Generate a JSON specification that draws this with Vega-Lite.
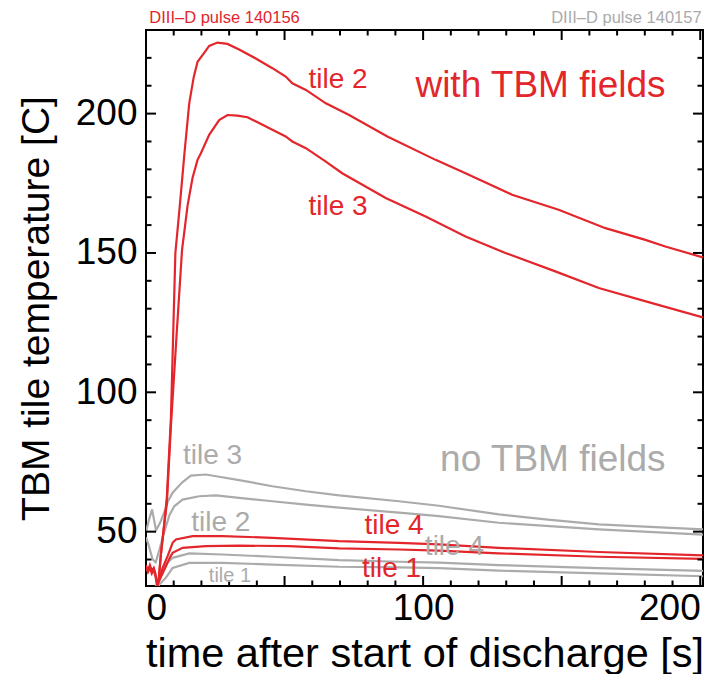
{
  "$schema": "https://vega.github.io/schema/vega-lite/v6.json",
  "width": 557,
  "height": 556,
  "autosize": {"type": "none"},
  "padding": {"left": 146, "top": 30, "right": 3, "bottom": 88},
  "background": "white",
  "config": {
    "view": {"stroke": "black", "strokeWidth": 2},
    "font": "Liberation Sans",
    "axis": {"labelFont": "Liberation Sans", "titleFont": "Liberation Sans", "grid": false, "domain": false, "ticks": false, "labelColor": "black", "titleColor": "black", "titleFontWeight": "normal"}
  },
  "resolve": {"axis": {"x": "independent", "y": "independent"}},
  "datasets": {
    "lines": [
      {"s":"g3","p":"140157","t":0,"v":50},{"s":"g3","p":"140157","t":1,"v":54},{"s":"g3","p":"140157","t":2.2,"v":58},{"s":"g3","p":"140157","t":3.6,"v":50.5},{"s":"g3","p":"140157","t":5,"v":53},{"s":"g3","p":"140157","t":6.6,"v":57},{"s":"g3","p":"140157","t":8,"v":61},{"s":"g3","p":"140157","t":9.6,"v":64},{"s":"g3","p":"140157","t":11.5,"v":66},{"s":"g3","p":"140157","t":13.2,"v":67.8},{"s":"g3","p":"140157","t":16.2,"v":70.1},{"s":"g3","p":"140157","t":21.6,"v":70.5},{"s":"g3","p":"140157","t":26.4,"v":69.7},{"s":"g3","p":"140157","t":33.6,"v":68.5},{"s":"g3","p":"140157","t":45.6,"v":66.3},{"s":"g3","p":"140157","t":57.7,"v":64.5},{"s":"g3","p":"140157","t":69.7,"v":63.0},{"s":"g3","p":"140157","t":91.3,"v":60.9},{"s":"g3","p":"140157","t":105.7,"v":59.3},{"s":"g3","p":"140157","t":127.3,"v":56.2},{"s":"g3","p":"140157","t":145,"v":54.3},{"s":"g3","p":"140157","t":163.4,"v":52.6},{"s":"g3","p":"140157","t":180,"v":51.8},{"s":"g3","p":"140157","t":201,"v":50.8},
      {"s":"g2","p":"140157","t":0,"v":48},{"s":"g2","p":"140157","t":1,"v":45},{"s":"g2","p":"140157","t":2.4,"v":40},{"s":"g2","p":"140157","t":3.5,"v":39},{"s":"g2","p":"140157","t":5,"v":44},{"s":"g2","p":"140157","t":6.6,"v":50},{"s":"g2","p":"140157","t":8.5,"v":56},{"s":"g2","p":"140157","t":10.2,"v":59.1},{"s":"g2","p":"140157","t":13.2,"v":61.5},{"s":"g2","p":"140157","t":19.2,"v":62.7},{"s":"g2","p":"140157","t":25.2,"v":63},{"s":"g2","p":"140157","t":33.6,"v":62.1},{"s":"g2","p":"140157","t":45.6,"v":60.9},{"s":"g2","p":"140157","t":57.7,"v":59.7},{"s":"g2","p":"140157","t":69.7,"v":58.6},{"s":"g2","p":"140157","t":91.3,"v":56.8},{"s":"g2","p":"140157","t":105.7,"v":55.6},{"s":"g2","p":"140157","t":127.3,"v":53.2},{"s":"g2","p":"140157","t":163.4,"v":50.8},{"s":"g2","p":"140157","t":201,"v":48.9},
      {"s":"g4","p":"140157","t":3,"v":29},{"s":"g4","p":"140157","t":4.5,"v":33},{"s":"g4","p":"140157","t":6,"v":36.5},{"s":"g4","p":"140157","t":7.8,"v":39},{"s":"g4","p":"140157","t":9.6,"v":40.6},{"s":"g4","p":"140157","t":15.6,"v":42.2},{"s":"g4","p":"140157","t":27.6,"v":41.8},{"s":"g4","p":"140157","t":45.6,"v":41},{"s":"g4","p":"140157","t":69.7,"v":39.8},{"s":"g4","p":"140157","t":91.3,"v":39.2},{"s":"g4","p":"140157","t":105.7,"v":38.9},{"s":"g4","p":"140157","t":127.3,"v":38.0},{"s":"g4","p":"140157","t":163.4,"v":36.9},{"s":"g4","p":"140157","t":201,"v":35.9},
      {"s":"g1","p":"140157","t":3.5,"v":29},{"s":"g1","p":"140157","t":4.8,"v":31},{"s":"g1","p":"140157","t":7.2,"v":33.5},{"s":"g1","p":"140157","t":9.6,"v":37},{"s":"g1","p":"140157","t":15.6,"v":38.8},{"s":"g1","p":"140157","t":27.6,"v":38.8},{"s":"g1","p":"140157","t":45.6,"v":38.2},{"s":"g1","p":"140157","t":69.7,"v":37.4},{"s":"g1","p":"140157","t":91.3,"v":37.2},{"s":"g1","p":"140157","t":105.7,"v":36.9},{"s":"g1","p":"140157","t":127.3,"v":36.0},{"s":"g1","p":"140157","t":163.4,"v":35},{"s":"g1","p":"140157","t":201,"v":34},
      {"s":"r2","p":"140156","t":0,"v":38},{"s":"r2","p":"140156","t":0.7,"v":36},{"s":"r2","p":"140156","t":1.4,"v":38},{"s":"r2","p":"140156","t":2.1,"v":36},{"s":"r2","p":"140156","t":2.8,"v":37},{"s":"r2","p":"140156","t":3.4,"v":35},{"s":"r2","p":"140156","t":4.0,"v":31},{"s":"r2","p":"140156","t":4.6,"v":33},{"s":"r2","p":"140156","t":5.4,"v":42},{"s":"r2","p":"140156","t":6.5,"v":52},{"s":"r2","p":"140156","t":7.5,"v":62},{"s":"r2","p":"140156","t":9,"v":91},{"s":"r2","p":"140156","t":10.6,"v":150},{"s":"r2","p":"140156","t":12.2,"v":167},{"s":"r2","p":"140156","t":13.9,"v":186},{"s":"r2","p":"140156","t":15.6,"v":203.7},{"s":"r2","p":"140156","t":17.2,"v":213},{"s":"r2","p":"140156","t":18.6,"v":218.6},{"s":"r2","p":"140156","t":20.4,"v":221},{"s":"r2","p":"140156","t":22.8,"v":224.3},{"s":"r2","p":"140156","t":25.8,"v":225.5},{"s":"r2","p":"140156","t":29.4,"v":225},{"s":"r2","p":"140156","t":33.6,"v":223},{"s":"r2","p":"140156","t":39.6,"v":219.8},{"s":"r2","p":"140156","t":45.6,"v":216.3},{"s":"r2","p":"140156","t":50.4,"v":213.3},{"s":"r2","p":"140156","t":52.8,"v":210.9},{"s":"r2","p":"140156","t":57.7,"v":208.5},{"s":"r2","p":"140156","t":64.9,"v":203.7},{"s":"r2","p":"140156","t":73.3,"v":199.5},{"s":"r2","p":"140156","t":87.1,"v":191.8},{"s":"r2","p":"140156","t":104.5,"v":183.4},{"s":"r2","p":"140156","t":115.3,"v":178.6},{"s":"r2","p":"140156","t":132.1,"v":170.9},{"s":"r2","p":"140156","t":148.9,"v":165.5},{"s":"r2","p":"140156","t":165.8,"v":158.9},{"s":"r2","p":"140156","t":180.2,"v":154.7},{"s":"r2","p":"140156","t":187.4,"v":152.3},{"s":"r2","p":"140156","t":201,"v":148.4},
      {"s":"r3","p":"140156","t":0,"v":37},{"s":"r3","p":"140156","t":0.7,"v":35.5},{"s":"r3","p":"140156","t":1.4,"v":37},{"s":"r3","p":"140156","t":2.1,"v":35},{"s":"r3","p":"140156","t":2.8,"v":36.5},{"s":"r3","p":"140156","t":3.4,"v":34},{"s":"r3","p":"140156","t":4.0,"v":31},{"s":"r3","p":"140156","t":4.6,"v":33},{"s":"r3","p":"140156","t":5.4,"v":42},{"s":"r3","p":"140156","t":6.5,"v":52},{"s":"r3","p":"140156","t":7.5,"v":60},{"s":"r3","p":"140156","t":9,"v":88},{"s":"r3","p":"140156","t":11,"v":120},{"s":"r3","p":"140156","t":13,"v":151},{"s":"r3","p":"140156","t":15,"v":167},{"s":"r3","p":"140156","t":16.8,"v":177},{"s":"r3","p":"140156","t":18.6,"v":183.4},{"s":"r3","p":"140156","t":19.8,"v":185.8},{"s":"r3","p":"140156","t":22.8,"v":192.4},{"s":"r3","p":"140156","t":26.4,"v":197.7},{"s":"r3","p":"140156","t":29.4,"v":199.5},{"s":"r3","p":"140156","t":33,"v":199.3},{"s":"r3","p":"140156","t":36.6,"v":198.7},{"s":"r3","p":"140156","t":40.8,"v":196.6},{"s":"r3","p":"140156","t":45.6,"v":194.2},{"s":"r3","p":"140156","t":50.4,"v":191.8},{"s":"r3","p":"140156","t":52.8,"v":190},{"s":"r3","p":"140156","t":57.7,"v":187.6},{"s":"r3","p":"140156","t":64.9,"v":182.8},{"s":"r3","p":"140156","t":70.8,"v":178.6},{"s":"r3","p":"140156","t":86.5,"v":169.7},{"s":"r3","p":"140156","t":100.9,"v":163.1},{"s":"r3","p":"140156","t":115.3,"v":155.9},{"s":"r3","p":"140156","t":129.7,"v":150},{"s":"r3","p":"140156","t":147.7,"v":143.4},{"s":"r3","p":"140156","t":163.4,"v":137.4},{"s":"r3","p":"140156","t":182.6,"v":132},{"s":"r3","p":"140156","t":201,"v":126.9},
      {"s":"r4","p":"140156","t":3,"v":29},{"s":"r4","p":"140156","t":4,"v":30.5},{"s":"r4","p":"140156","t":4.8,"v":33},{"s":"r4","p":"140156","t":6,"v":37},{"s":"r4","p":"140156","t":7.8,"v":41.2},{"s":"r4","p":"140156","t":9.6,"v":46},{"s":"r4","p":"140156","t":10.8,"v":47.2},{"s":"r4","p":"140156","t":16.8,"v":48.4},{"s":"r4","p":"140156","t":27.6,"v":48.4},{"s":"r4","p":"140156","t":45.6,"v":47.8},{"s":"r4","p":"140156","t":69.7,"v":46.6},{"s":"r4","p":"140156","t":91.3,"v":46},{"s":"r4","p":"140156","t":105.7,"v":45.4},{"s":"r4","p":"140156","t":127.3,"v":44.2},{"s":"r4","p":"140156","t":163.4,"v":42.7},{"s":"r4","p":"140156","t":201,"v":41.5},
      {"s":"r1","p":"140156","t":3.5,"v":29.5},{"s":"r1","p":"140156","t":4.2,"v":31},{"s":"r1","p":"140156","t":5.5,"v":34},{"s":"r1","p":"140156","t":7.2,"v":37.6},{"s":"r1","p":"140156","t":8.5,"v":40.5},{"s":"r1","p":"140156","t":9.6,"v":42.4},{"s":"r1","p":"140156","t":13.2,"v":44.2},{"s":"r1","p":"140156","t":21.6,"v":44.8},{"s":"r1","p":"140156","t":33.6,"v":45},{"s":"r1","p":"140156","t":51.6,"v":44.8},{"s":"r1","p":"140156","t":69.7,"v":44},{"s":"r1","p":"140156","t":91.3,"v":43.6},{"s":"r1","p":"140156","t":105.7,"v":43.2},{"s":"r1","p":"140156","t":127.3,"v":42.2},{"s":"r1","p":"140156","t":163.4,"v":41},{"s":"r1","p":"140156","t":201,"v":40.2}
    ],
    "ticks": [
      {"ax":"x","k":"major","val":50},{"ax":"x","k":"major","val":100},{"ax":"x","k":"major","val":150},{"ax":"x","k":"major","val":200},
      {"ax":"x","k":"minor","val":10},{"ax":"x","k":"minor","val":20},{"ax":"x","k":"minor","val":30},{"ax":"x","k":"minor","val":40},{"ax":"x","k":"minor","val":60},{"ax":"x","k":"minor","val":70},{"ax":"x","k":"minor","val":80},{"ax":"x","k":"minor","val":90},{"ax":"x","k":"minor","val":110},{"ax":"x","k":"minor","val":120},{"ax":"x","k":"minor","val":130},{"ax":"x","k":"minor","val":140},{"ax":"x","k":"minor","val":160},{"ax":"x","k":"minor","val":170},{"ax":"x","k":"minor","val":180},{"ax":"x","k":"minor","val":190},
      {"ax":"y","k":"major","val":50},{"ax":"y","k":"major","val":100},{"ax":"y","k":"major","val":150},{"ax":"y","k":"major","val":200},
      {"ax":"y","k":"minor","val":40},{"ax":"y","k":"minor","val":60},{"ax":"y","k":"minor","val":70},{"ax":"y","k":"minor","val":80},{"ax":"y","k":"minor","val":90},{"ax":"y","k":"minor","val":110},{"ax":"y","k":"minor","val":120},{"ax":"y","k":"minor","val":130},{"ax":"y","k":"minor","val":140},{"ax":"y","k":"minor","val":160},{"ax":"y","k":"minor","val":170},{"ax":"y","k":"minor","val":180},{"ax":"y","k":"minor","val":190},{"ax":"y","k":"minor","val":210},{"ax":"y","k":"minor","val":220}
    ],
    "labels": [
      {"text":"tile 2","p":"140156","k":"tile","t":69.3,"v":209.2},
      {"text":"tile 3","p":"140156","k":"tile","t":69.3,"v":163.7},
      {"text":"tile 4","p":"140156","k":"tile","t":89.5,"v":49},
      {"text":"tile 1","p":"140156","k":"tile","t":88.6,"v":33.6},
      {"text":"tile 3","p":"140157","k":"tile","t":24,"v":74.1},
      {"text":"tile 2","p":"140157","k":"tile","t":27,"v":50.2},
      {"text":"tile 4","p":"140157","k":"tile","t":111.3,"v":41.8},
      {"text":"tile 1","p":"140157","k":"small","t":30.3,"v":31.8},
      {"text":"with TBM fields","p":"140156","k":"big","t":187.5,"v":206},
      {"text":"no TBM fields","p":"140157","k":"big","t":187.5,"v":71.6},
      {"text":"DIII–D pulse 140156","p":"140156","k":"headL","t":1.2,"v":232.5},
      {"text":"DIII–D pulse 140157","p":"140157","k":"headR","t":200.5,"v":232.5}
    ]
  },
  "layer": [
    {
      "data": {"name": "lines"},
      "transform": [{"filter": "datum.p == '140157'"}],
      "mark": {"type": "line", "clip": true, "strokeWidth": 2.2, "color": "#ababab"},
      "encoding": {
        "x": {"field": "t", "type": "quantitative", "scale": {"domain": [0, 201], "nice": false, "zero": false},
              "axis": {"orient": "bottom", "values": [0, 100, 200], "labelFontSize": 37, "labelPadding": 4, "labelFlush": 6, "title": "time after start of discharge [s]", "titleFontSize": 41.5, "titlePadding": 7}},
        "y": {"field": "v", "type": "quantitative", "scale": {"domain": [30.5, 230], "nice": false, "zero": false},
              "axis": {"orient": "left", "values": [50, 100, 150, 200], "labelFontSize": 37, "labelPadding": 9, "title": "TBM tile temperature [C]", "titleFontSize": 39, "titlePadding": 19}},
        "detail": {"field": "s"}
      }
    },
    {
      "data": {"name": "lines"},
      "transform": [{"filter": "datum.p == '140156'"}],
      "mark": {"type": "line", "clip": true, "strokeWidth": 2.2, "color": "#e3262b"},
      "encoding": {
        "x": {"field": "t", "type": "quantitative", "scale": {"domain": [0, 201], "nice": false, "zero": false}, "axis": null},
        "y": {"field": "v", "type": "quantitative", "scale": {"domain": [30.5, 230], "nice": false, "zero": false}, "axis": null},
        "detail": {"field": "s"}
      }
    },
    {
      "data": {"name": "ticks"},
      "transform": [{"filter": "datum.ax == 'x' && datum.k == 'major'"}],
      "mark": {"type": "tick", "orient": "vertical", "size": 20, "thickness": 2, "color": "black", "opacity": 1, "clip": true},
      "encoding": {
        "x": {"field": "val", "type": "quantitative", "scale": {"domain": [0, 201], "nice": false, "zero": false}, "axis": null},
        "y": {"datum": 30.5, "type": "quantitative", "scale": {"domain": [30.5, 230], "nice": false, "zero": false}, "axis": null}
      }
    },
    {
      "data": {"name": "ticks"},
      "transform": [{"filter": "datum.ax == 'x' && datum.k == 'major'"}],
      "mark": {"type": "tick", "orient": "vertical", "size": 20, "thickness": 2, "color": "black", "opacity": 1, "clip": true},
      "encoding": {
        "x": {"field": "val", "type": "quantitative", "scale": {"domain": [0, 201], "nice": false, "zero": false}, "axis": null},
        "y": {"datum": 230, "type": "quantitative", "scale": {"domain": [30.5, 230], "nice": false, "zero": false}, "axis": null}
      }
    },
    {
      "data": {"name": "ticks"},
      "transform": [{"filter": "datum.ax == 'x' && datum.k == 'minor'"}],
      "mark": {"type": "tick", "orient": "vertical", "size": 11, "thickness": 2, "color": "black", "opacity": 1, "clip": true},
      "encoding": {
        "x": {"field": "val", "type": "quantitative", "scale": {"domain": [0, 201], "nice": false, "zero": false}, "axis": null},
        "y": {"datum": 30.5, "type": "quantitative", "scale": {"domain": [30.5, 230], "nice": false, "zero": false}, "axis": null}
      }
    },
    {
      "data": {"name": "ticks"},
      "transform": [{"filter": "datum.ax == 'x' && datum.k == 'minor'"}],
      "mark": {"type": "tick", "orient": "vertical", "size": 11, "thickness": 2, "color": "black", "opacity": 1, "clip": true},
      "encoding": {
        "x": {"field": "val", "type": "quantitative", "scale": {"domain": [0, 201], "nice": false, "zero": false}, "axis": null},
        "y": {"datum": 230, "type": "quantitative", "scale": {"domain": [30.5, 230], "nice": false, "zero": false}, "axis": null}
      }
    },
    {
      "data": {"name": "ticks"},
      "transform": [{"filter": "datum.ax == 'y' && datum.k == 'major'"}],
      "mark": {"type": "tick", "orient": "horizontal", "size": 20, "thickness": 2, "color": "black", "opacity": 1, "clip": true},
      "encoding": {
        "y": {"field": "val", "type": "quantitative", "scale": {"domain": [30.5, 230], "nice": false, "zero": false}, "axis": null},
        "x": {"datum": 0, "type": "quantitative", "scale": {"domain": [0, 201], "nice": false, "zero": false}, "axis": null}
      }
    },
    {
      "data": {"name": "ticks"},
      "transform": [{"filter": "datum.ax == 'y' && datum.k == 'major'"}],
      "mark": {"type": "tick", "orient": "horizontal", "size": 20, "thickness": 2, "color": "black", "opacity": 1, "clip": true},
      "encoding": {
        "y": {"field": "val", "type": "quantitative", "scale": {"domain": [30.5, 230], "nice": false, "zero": false}, "axis": null},
        "x": {"datum": 201, "type": "quantitative", "scale": {"domain": [0, 201], "nice": false, "zero": false}, "axis": null}
      }
    },
    {
      "data": {"name": "ticks"},
      "transform": [{"filter": "datum.ax == 'y' && datum.k == 'minor'"}],
      "mark": {"type": "tick", "orient": "horizontal", "size": 11, "thickness": 2, "color": "black", "opacity": 1, "clip": true},
      "encoding": {
        "y": {"field": "val", "type": "quantitative", "scale": {"domain": [30.5, 230], "nice": false, "zero": false}, "axis": null},
        "x": {"datum": 0, "type": "quantitative", "scale": {"domain": [0, 201], "nice": false, "zero": false}, "axis": null}
      }
    },
    {
      "data": {"name": "ticks"},
      "transform": [{"filter": "datum.ax == 'y' && datum.k == 'minor'"}],
      "mark": {"type": "tick", "orient": "horizontal", "size": 11, "thickness": 2, "color": "black", "opacity": 1, "clip": true},
      "encoding": {
        "y": {"field": "val", "type": "quantitative", "scale": {"domain": [30.5, 230], "nice": false, "zero": false}, "axis": null},
        "x": {"datum": 201, "type": "quantitative", "scale": {"domain": [0, 201], "nice": false, "zero": false}, "axis": null}
      }
    },
    {
      "data": {"name": "labels"},
      "transform": [{"filter": "datum.k == 'tile'"}],
      "mark": {"type": "text", "fontSize": 28, "align": "center", "baseline": "alphabetic"},
      "encoding": {
        "x": {"field": "t", "type": "quantitative", "scale": {"domain": [0, 201], "nice": false, "zero": false}, "axis": null},
        "y": {"field": "v", "type": "quantitative", "scale": {"domain": [30.5, 230], "nice": false, "zero": false}, "axis": null},
        "text": {"field": "text"},
        "color": {"field": "p", "type": "nominal", "scale": {"domain": ["140156", "140157"], "range": ["#e3262b", "#ababab"]}, "legend": null}
      }
    },
    {
      "data": {"name": "labels"},
      "transform": [{"filter": "datum.k == 'small'"}],
      "mark": {"type": "text", "fontSize": 20, "align": "center", "baseline": "alphabetic"},
      "encoding": {
        "x": {"field": "t", "type": "quantitative", "scale": {"domain": [0, 201], "nice": false, "zero": false}, "axis": null},
        "y": {"field": "v", "type": "quantitative", "scale": {"domain": [30.5, 230], "nice": false, "zero": false}, "axis": null},
        "text": {"field": "text"},
        "color": {"field": "p", "type": "nominal", "scale": {"domain": ["140156", "140157"], "range": ["#e3262b", "#ababab"]}, "legend": null}
      }
    },
    {
      "data": {"name": "labels"},
      "transform": [{"filter": "datum.k == 'big'"}],
      "mark": {"type": "text", "fontSize": 37, "align": "right", "baseline": "alphabetic"},
      "encoding": {
        "x": {"field": "t", "type": "quantitative", "scale": {"domain": [0, 201], "nice": false, "zero": false}, "axis": null},
        "y": {"field": "v", "type": "quantitative", "scale": {"domain": [30.5, 230], "nice": false, "zero": false}, "axis": null},
        "text": {"field": "text"},
        "color": {"field": "p", "type": "nominal", "scale": {"domain": ["140156", "140157"], "range": ["#e3262b", "#ababab"]}, "legend": null}
      }
    },
    {
      "data": {"name": "labels"},
      "transform": [{"filter": "datum.k == 'headL'"}],
      "mark": {"type": "text", "fontSize": 16.5, "align": "left", "baseline": "alphabetic"},
      "encoding": {
        "x": {"field": "t", "type": "quantitative", "scale": {"domain": [0, 201], "nice": false, "zero": false}, "axis": null},
        "y": {"field": "v", "type": "quantitative", "scale": {"domain": [30.5, 230], "nice": false, "zero": false}, "axis": null},
        "text": {"field": "text"},
        "color": {"field": "p", "type": "nominal", "scale": {"domain": ["140156", "140157"], "range": ["#e3262b", "#ababab"]}, "legend": null}
      }
    },
    {
      "data": {"name": "labels"},
      "transform": [{"filter": "datum.k == 'headR'"}],
      "mark": {"type": "text", "fontSize": 16.5, "align": "right", "baseline": "alphabetic"},
      "encoding": {
        "x": {"field": "t", "type": "quantitative", "scale": {"domain": [0, 201], "nice": false, "zero": false}, "axis": null},
        "y": {"field": "v", "type": "quantitative", "scale": {"domain": [30.5, 230], "nice": false, "zero": false}, "axis": null},
        "text": {"field": "text"},
        "color": {"field": "p", "type": "nominal", "scale": {"domain": ["140156", "140157"], "range": ["#e3262b", "#ababab"]}, "legend": null}
      }
    }
  ]
}
